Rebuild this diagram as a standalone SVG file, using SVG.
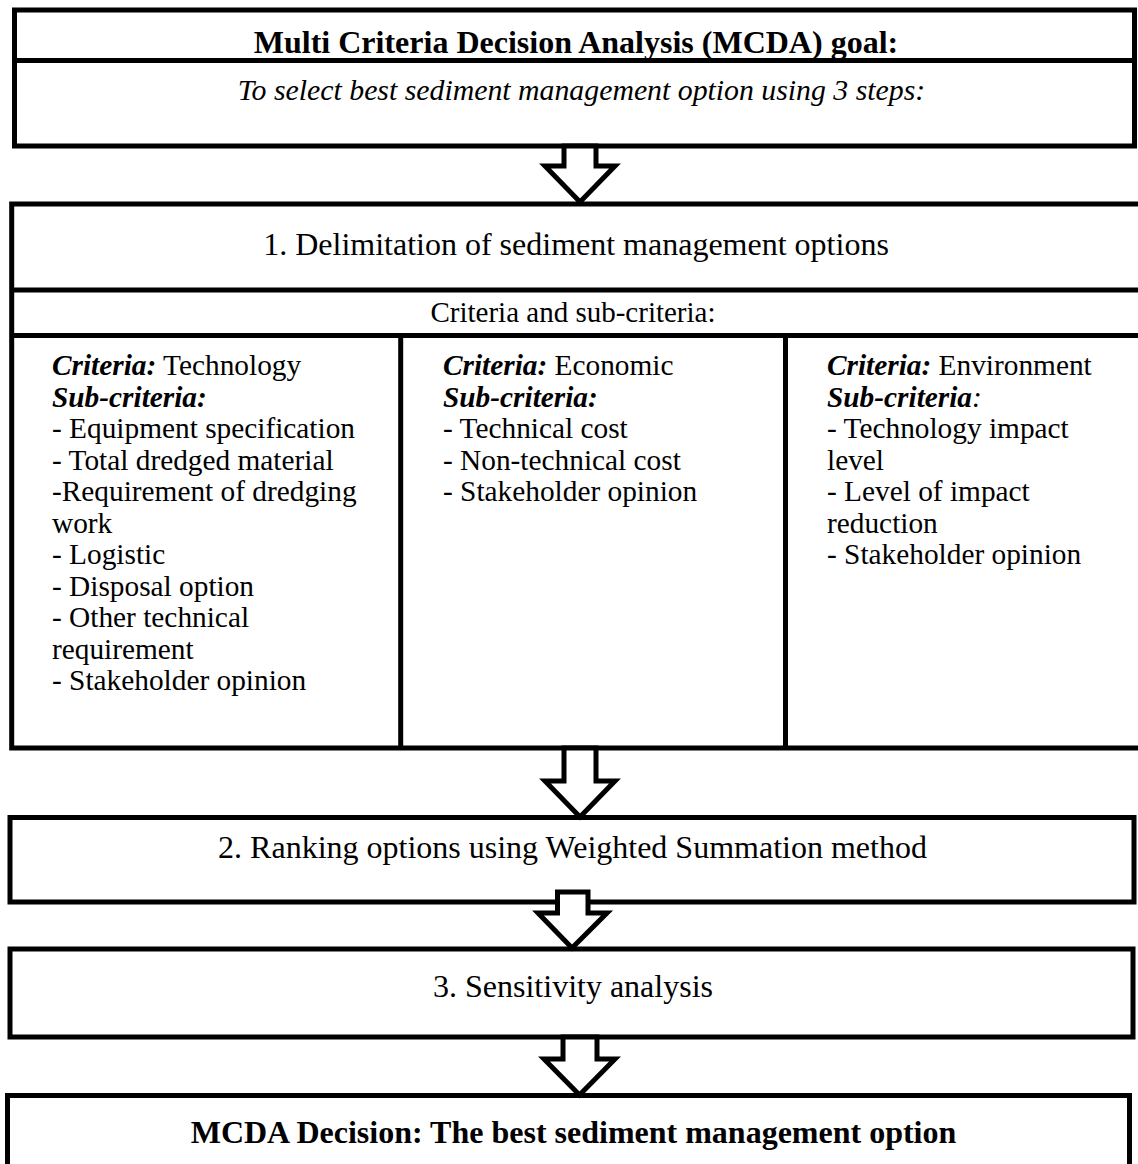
<svg xmlns="http://www.w3.org/2000/svg" width="1138" height="1164" viewBox="0 0 1138 1164">
  <style>
    .box { fill: #fff; stroke: #000; stroke-width: 5; }
    .rule { stroke: #000; stroke-width: 5; fill: none; }
    .arrow { fill: #fff; stroke: #000; stroke-width: 5; stroke-linejoin: miter; stroke-miterlimit: 10; }
    text { font-family: "Liberation Serif", "Times New Roman", serif; fill: #000; }
    .big { font-size: 32px; }
    .small { font-size: 29.33px; }
    .sub { font-size: 29.8px; }
    .hdr { font-size: 29px; }
    .b { font-weight: bold; }
    .i { font-style: italic; }
    .mid { text-anchor: middle; }
  </style>
  <rect width="1138" height="1164" fill="#fff"/>

  <!-- goal -->
  <g id="goal">
    <rect class="box" x="14.5" y="10" width="1120" height="136"/>
    <line class="rule" x1="14.5" y1="60.5" x2="1134.5" y2="60.5"/>
    <text class="big b mid" x="576" y="53">Multi Criteria Decision Analysis (MCDA) goal:</text>
    <text class="sub i mid" x="581.5" y="100">To select best sediment management option using 3 steps:</text>
  </g>

  <!-- step 1: options, criteria and sub-criteria -->
  <g id="step1">
    <rect class="box" x="11.7" y="204" width="1130" height="544"/>
    <line class="rule" x1="11.7" y1="290" x2="1141.7" y2="290"/>
    <line class="rule" x1="11.7" y1="335.5" x2="1141.7" y2="335.5"/>
    <line class="rule" x1="400.7" y1="335.5" x2="400.7" y2="748"/>
    <line class="rule" x1="785.5" y1="335.5" x2="785.5" y2="748"/>
    <text class="big mid" x="576" y="255">1. Delimitation of sediment management options</text>
    <text class="hdr mid" x="573" y="322">Criteria and sub-criteria:</text>
  </g>

  <g id="col-technology" class="small">
    <text x="52" y="375"><tspan class="b i">Criteria:</tspan> Technology</text>
    <text x="52" y="406.5" class="b i">Sub-criteria:</text>
    <text x="52" y="438">- Equipment specification</text>
    <text x="52" y="469.5">- Total dredged material</text>
    <text x="52" y="501">-Requirement of dredging</text>
    <text x="52" y="532.5">work</text>
    <text x="52" y="564">- Logistic</text>
    <text x="52" y="595.5">- Disposal option</text>
    <text x="52" y="627">- Other technical</text>
    <text x="52" y="658.5">requirement</text>
    <text x="52" y="690">- Stakeholder opinion</text>
  </g>

  <g id="col-economic" class="small">
    <text x="443" y="375"><tspan class="b i">Criteria:</tspan> Economic</text>
    <text x="443" y="406.5" class="b i">Sub-criteria:</text>
    <text x="443" y="438">- Technical cost</text>
    <text x="443" y="469.5">- Non-technical cost</text>
    <text x="443" y="501">- Stakeholder opinion</text>
  </g>

  <g id="col-environment" class="small">
    <text x="827" y="375"><tspan class="b i">Criteria:</tspan> Environment</text>
    <text x="827" y="406.5"><tspan class="b i">Sub-criteria</tspan><tspan class="i">:</tspan></text>
    <text x="827" y="438">- Technology impact</text>
    <text x="827" y="469.5">level</text>
    <text x="827" y="501">- Level of impact</text>
    <text x="827" y="532.5">reduction</text>
    <text x="827" y="564">- Stakeholder opinion</text>
  </g>

  <!-- step 2 -->
  <g id="step2">
    <rect class="box" x="10" y="817.5" width="1124" height="84.5"/>
    <text class="big mid" x="572.5" y="858">2. Ranking options using Weighted Summation method</text>
  </g>

  <!-- step 3 -->
  <g id="step3">
    <rect class="box" x="10" y="949" width="1123" height="88"/>
    <text class="big mid" x="573" y="997">3. Sensitivity analysis</text>
  </g>

  <!-- decision -->
  <g id="decision">
    <rect class="box" x="7.5" y="1095.5" width="1122" height="90"/>
    <text class="big b mid" x="573.5" y="1143">MCDA Decision: The best sediment management option</text>
  </g>

  <!-- block arrows between the stages -->
  <g id="connectors">
    <polygon class="arrow" points="564,146 596,146 596,166 615,166 580,202 545,166 564,166"/>
    <polygon class="arrow" points="564,748 596,748 596,781 615,781 580,817 545,781 564,781"/>
    <polygon class="arrow" points="557.5,892 588,892 588,913 607,913 572,948 538,913 557.5,913"/>
    <polygon class="arrow" points="563,1037 597,1037 597,1059 615,1059 579.5,1095 544,1059 563,1059"/>
  </g>
</svg>
